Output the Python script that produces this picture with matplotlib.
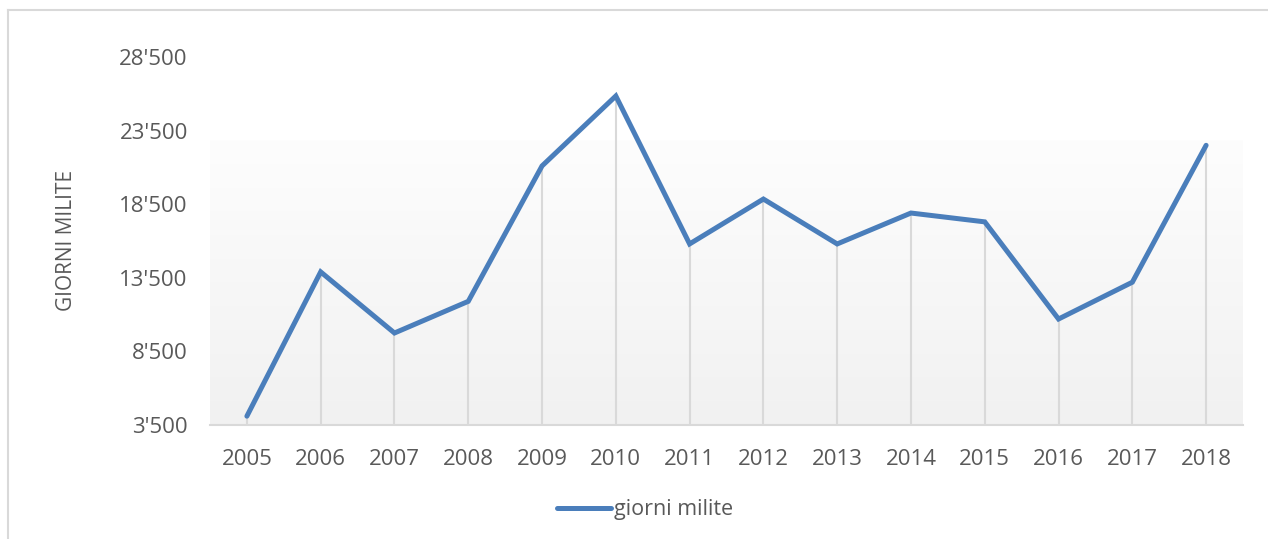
import matplotlib.pyplot as plt
import matplotlib.ticker as mticker
import numpy as np

years = [2005, 2006, 2007, 2008, 2009, 2010, 2011, 2012, 2013, 2014, 2015, 2016, 2017, 2018]
giorni = [4100, 13900, 9750, 11900, 21100, 25850, 15800, 18850, 15800, 17900, 17300, 10700, 13200, 22500]
y_ticks = [3500, 8500, 13500, 18500, 23500, 28500]

plt.rcParams['font.family'] = ['Open Sans', 'DejaVu Sans']
text_col = '#595959'
line_col = '#4a7ebb'
grid_col = '#d9d9d9'

fig = plt.figure(figsize=(12.68, 5.39), dpi=100)
ax = fig.add_axes([210 / 1268, 114 / 539, 1033 / 1268, 368 / 539])

x = np.arange(len(years))

# gradient fill of the plot area
grad = np.linspace(0, 1, 256).reshape(-1, 1)
ax.imshow(grad, cmap=plt.matplotlib.colors.LinearSegmentedColormap.from_list('g', ['#fdfdfd', '#f1f1f1']),
          extent=(0, 1, 0, 0.774), transform=ax.transAxes, aspect='auto', zorder=0)

ax.vlines(x, y_ticks[0], giorni, color=grid_col, lw=1.5, zorder=1)
ax.plot(x, giorni, color=line_col, lw=3.6, label='giorni milite', zorder=3,
        solid_capstyle='round', solid_joinstyle='miter')

ax.set_xlim(-0.5, len(years) - 0.5)
ax.set_ylim(y_ticks[0], y_ticks[-1])
ax.set_xticks(x)
ax.set_xticklabels([str(y) for y in years])
ax.set_yticks(y_ticks)
ax.yaxis.set_major_formatter(mticker.FuncFormatter(lambda v, p: f"{int(v):,}".replace(',', "'")))
ax.tick_params(axis='both', length=0, labelsize=16, labelcolor=text_col)
ax.tick_params(axis='y', pad=16)
ax.tick_params(axis='x', pad=17)

for s in ['top', 'right', 'left']:
    ax.spines[s].set_visible(False)
ax.spines['bottom'].set_color(grid_col)
ax.spines['bottom'].set_linewidth(1.5)
ax.set_facecolor('none')

fig.text(67 / 1268, 1 - 240 / 539, 'GIORNI MILITE', rotation=90, ha='center', va='center',
         fontsize=15, color=text_col)

fig.legend(loc='center', bbox_to_anchor=(645 / 1268, 1 - 510 / 539), frameon=False,
           fontsize=15.5, labelcolor=text_col, handlelength=2.5, handletextpad=0.15)

# outer chart frame
fig.add_artist(plt.Line2D([8 / 1268, 8 / 1268], [0, 1 - 10 / 539], color=grid_col, lw=1.5))
fig.add_artist(plt.Line2D([8 / 1268, 1], [1 - 10 / 539, 1 - 10 / 539], color=grid_col, lw=1.5))

fig.savefig('out.png', dpi=100)
